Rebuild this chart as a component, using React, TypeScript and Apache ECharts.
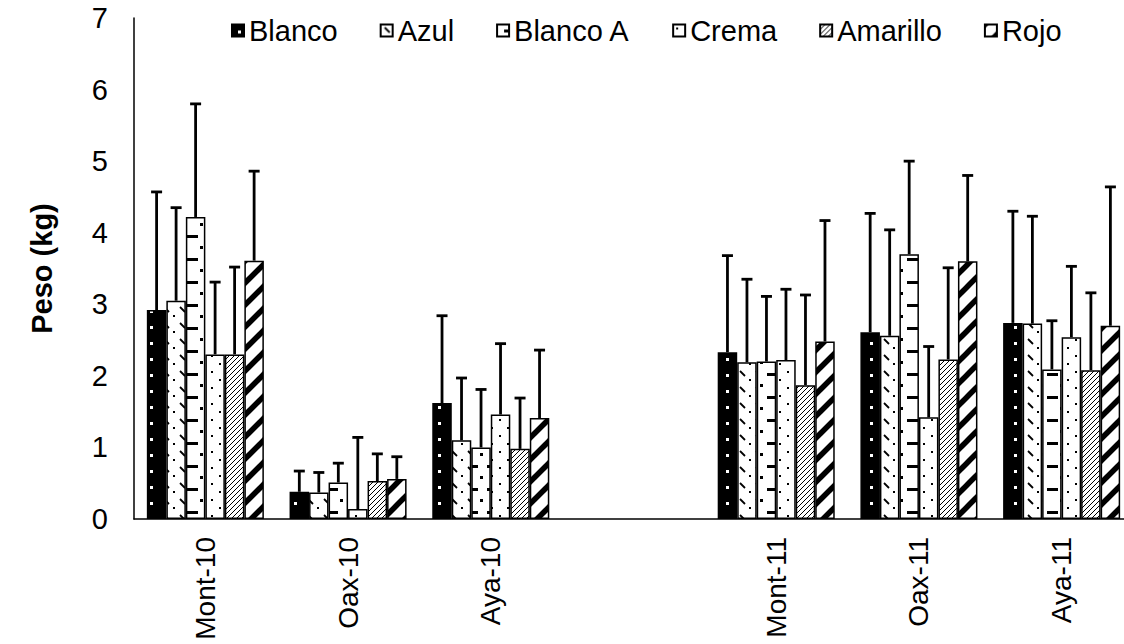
import React, { useEffect, useRef } from "react";
import * as echarts from "echarts";

// Categories (the blank slot separates the 2010 and 2011 groups)
const categories = ["Mont-10", "Oax-10", "Aya-10", "", "Mont-11", "Oax-11", "Aya-11"];
const seriesNames = ["Blanco", "Azul", "Blanco A", "Crema", "Amarillo", "Rojo"];

// Mean weight (kg) per category, "-" for the empty slot
const blanco = [2.92, 0.38, 1.62, "-", 2.33, 2.61, 2.74];
const azul = [3.05, 0.37, 1.10, "-", 2.19, 2.56, 2.73];
const blancoA = [4.22, 0.51, 1.00, "-", 2.20, 3.70, 2.09];
const crema = [2.30, 0.14, 1.46, "-", 2.22, 1.42, 2.54];
const amarillo = [2.30, 0.53, 0.98, "-", 1.87, 2.23, 2.08];
const rojo = [3.61, 0.56, 1.41, "-", 2.48, 3.60, 2.70];

// Upper end of each error bar (kg)
const blancoErr = [4.57, 0.67, 2.84, "-", 3.68, 4.27, 4.30];
const azulErr = [4.35, 0.65, 1.97, "-", 3.35, 4.04, 4.23];
const blancoAErr = [5.80, 0.78, 1.81, "-", 3.11, 5.00, 2.77];
const cremaErr = [3.31, 1.14, 2.45, "-", 3.21, 2.41, 3.53];
const amarilloErr = [3.52, 0.91, 1.69, "-", 3.13, 3.51, 3.16];
const rojoErr = [4.86, 0.87, 2.36, "-", 4.17, 4.80, 4.64];

const yTicks = [0, 1, 2, 3, 4, 5, 6, 7];

const FONT = "'Liberation Sans', Arial, sans-serif";
const FONT_SIZE = 29;
const CATEGORY_GAP = 0.18;

function tile(w: number, h: number, draw: (c: CanvasRenderingContext2D) => void) {
  const cv = document.createElement("canvas");
  cv.width = w;
  cv.height = h;
  const c = cv.getContext("2d")!;
  draw(c);
  return { image: cv, repeat: "repeat" as const };
}

function makePatterns() {
  // black with a column of small white squares
  const solidDots = tile(16, 16, (c) => {
    c.fillStyle = "#000";
    c.fillRect(0, 0, 16, 16);
    c.fillStyle = "#fff";
    c.fillRect(6, 6, 3, 3);
  });
  // white with short "\" dashes
  const backslash = tile(16, 16, (c) => {
    c.fillStyle = "#fff";
    c.fillRect(0, 0, 16, 16);
    c.strokeStyle = "#000";
    c.lineWidth = 1.8;
    c.beginPath();
    c.moveTo(4, 3);
    c.lineTo(9, 8);
    c.stroke();
    c.fillStyle = "#000";
    c.fillRect(13, 11, 2, 2);
  });
  // white with short horizontal dashes
  const dashes = tile(20, 23, (c) => {
    c.fillStyle = "#fff";
    c.fillRect(0, 0, 20, 23);
    c.fillStyle = "#000";
    c.fillRect(7, 5, 11, 3);
    c.fillRect(0, 16, 3, 3);
  });
  // white with sparse dots
  const dots = tile(16, 16, (c) => {
    c.fillStyle = "#fff";
    c.fillRect(0, 0, 16, 16);
    c.fillStyle = "#000";
    c.fillRect(3, 3, 2, 2);
    c.fillRect(11, 11, 2, 2);
  });
  // dense thin "/" hatching
  const hatch = tile(5, 5, (c) => {
    c.fillStyle = "#fff";
    c.fillRect(0, 0, 5, 5);
    c.strokeStyle = "#000";
    c.lineWidth = 1;
    for (let k = -1; k <= 1; k++) {
      c.beginPath();
      c.moveTo(k * 5, 5);
      c.lineTo(k * 5 + 5, 0);
      c.stroke();
    }
  });
  // wide "/" stripes
  const stripes = tile(22, 22, (c) => {
    c.fillStyle = "#fff";
    c.fillRect(0, 0, 22, 22);
    c.strokeStyle = "#000";
    c.lineWidth = 5.5;
    for (let k = -1; k <= 1; k++) {
      c.beginPath();
      c.moveTo(k * 22 - 2, 24);
      c.lineTo(k * 22 + 24, -2);
      c.stroke();
    }
  });
  return [solidDots, backslash, dashes, dots, hatch, stripes];
}

export default function App() {
  const ref = useRef<HTMLDivElement>(null);

  useEffect(() => {
    if (!ref.current) return;
    const chart = echarts.init(ref.current, undefined, { renderer: "svg" });
    const patterns = makePatterns();
    const values = [blanco, azul, blancoA, crema, amarillo, rojo];
    const errs = [blancoErr, azulErr, blancoAErr, cremaErr, amarilloErr, rojoErr];
    const n = seriesNames.length;

    const bars = seriesNames.map((name, i) => ({
      name,
      type: "bar",
      data: values[i],
      barGap: "0%",
      barCategoryGap: `${CATEGORY_GAP * 100}%`,
      itemStyle: { color: patterns[i], borderColor: "#000", borderWidth: 1.5 },
      z: 2,
    }));

    const errorBars = seriesNames.map((name, i) => ({
      name,
      type: "custom",
      z: 3,
      data: values[i].map((v, j) => (v === "-" ? [j, "-", "-"] : [j, v, errs[i][j]])),
      encode: { x: 0, y: [1, 2] },
      renderItem: (params: any, api: any) => {
        const cat = api.value(0);
        const lo = api.value(1);
        const hi = api.value(2);
        if (isNaN(lo) || isNaN(hi)) return null;
        const band = api.size([1, 0])[0];
        const barW = (band * (1 - CATEGORY_GAP)) / n;
        const center = api.coord([cat, 0])[0];
        const x = center + (i - (n - 1) / 2) * barW;
        const y0 = api.coord([cat, lo])[1];
        const y1 = api.coord([cat, hi])[1];
        const cap = 5.5;
        const style = { stroke: "#000", lineWidth: 2.8 };
        return {
          type: "group",
          children: [
            { type: "line", shape: { x1: x, y1: y0, x2: x, y2: y1 }, style },
            { type: "line", shape: { x1: x - cap, y1: y1, x2: x + cap, y2: y1 }, style },
          ],
        };
      },
    }));

    chart.setOption({
      animation: false,
      textStyle: { fontFamily: FONT },
      legend: {
        data: seriesNames,
        top: 11,
        left: 226,
        itemWidth: 12,
        itemHeight: 12,
        itemGap: 42,
        icon: "rect",
        textStyle: { fontSize: FONT_SIZE, color: "#000", fontFamily: FONT },
      },
      grid: {
        left: 134,
        right: -9,
        top: 18,
        bottom: 125,
        containLabel: false,
        outerBoundsMode: "none",
      },
      xAxis: {
        type: "category",
        data: categories,
        axisLine: { lineStyle: { color: "#000", width: 1.5 } },
        axisTick: { show: false },
        axisLabel: {
          rotate: 90,
          margin: 18,
          fontSize: 28,
          color: "#000",
          fontFamily: FONT,
          interval: 0,
          hideOverlap: false,
        },
      },
      yAxis: {
        type: "value",
        min: yTicks[0],
        max: yTicks[yTicks.length - 1],
        interval: 1,
        name: "Peso (kg)",
        nameLocation: "middle",
        nameGap: 78,
        nameTextStyle: { fontSize: FONT_SIZE, fontWeight: "bold", color: "#000", fontFamily: FONT },
        axisLine: { show: true, lineStyle: { color: "#000", width: 1.5 } },
        axisTick: { show: false },
        splitLine: { show: false },
        axisLabel: { fontSize: FONT_SIZE, color: "#000", margin: 26, fontFamily: FONT },
      },
      series: [...bars, ...errorBars],
    } as any);

    return () => chart.dispose();
  }, []);

  return (
    <div
      ref={ref}
      style={{ position: "fixed", left: 0, top: 0, width: 1124, height: 644, background: "#fff" }}
    />
  );
}
